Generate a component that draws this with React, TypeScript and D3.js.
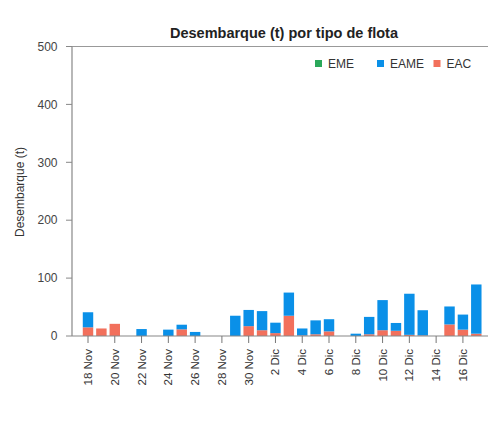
import React from "react";
import * as d3 from "d3";

const dates = [
  "18 Nov", "19 Nov", "20 Nov", "21 Nov", "22 Nov", "23 Nov", "24 Nov", "25 Nov", "26 Nov", "27 Nov",
  "28 Nov", "29 Nov", "30 Nov", "1 Dic", "2 Dic", "3 Dic", "4 Dic", "5 Dic", "6 Dic", "7 Dic",
  "8 Dic", "9 Dic", "10 Dic", "11 Dic", "12 Dic", "13 Dic", "14 Dic", "15 Dic", "16 Dic", "17 Dic",
];
const eme = [0, 0, 0, 0, 0, 0, 0, 0, 0, 0, 0, 0, 0, 0, 0, 0, 0, 0, 0, 0, 0, 0, 0, 0, 0, 0, 0, 0, 0, 0];
const eame = [26, 0, 0, 0, 12, 0, 11, 8, 7, 0, 0, 35, 28, 33, 18, 40, 12, 24, 21, 0, 4, 30, 52, 13.5, 71, 43.5, 0, 31, 26, 85];
const eac = [15, 13, 21, 0, 0, 0, 0, 11.5, 0, 0, 0, 0, 17, 10, 5, 35, 1, 3, 8, 0, 0, 3, 10, 9, 2, 1, 0, 20, 11, 4];
const tickLabels = ["18 Nov", "20 Nov", "22 Nov", "24 Nov", "26 Nov", "28 Nov", "30 Nov", "2 Dic", "4 Dic", "6 Dic", "8 Dic", "10 Dic", "12 Dic", "14 Dic", "16 Dic"];
const yTicks = [0, 100, 200, 300, 400, 500];
const seriesKeys = ["EAC", "EAME", "EME"];
const legendKeys = ["EME", "EAME", "EAC"];
const colors: Record<string, string> = { EME: "#2aa85a", EAME: "#0a90e8", EAC: "#f2705c" };

const W = 488, H = 423;
const x0 = 72, yTop = 46.5, yBottom = 336;
const font = "Liberation Sans, Arial, sans-serif";

export default function App() {
  const rows = dates.map((d, i) => ({ date: d, EME: eme[i], EAME: eame[i], EAC: eac[i] }));
  const x = d3.scaleBand<string>().domain(dates).range([x0, 492.3]).paddingInner(0.22).paddingOuter(0.805);
  const y = d3.scaleLinear().domain([0, 500]).range([yBottom, yTop]);
  const stacked = d3.stack<any>().keys(seriesKeys)(rows);
  const bw = x.bandwidth();
  const legendX: Record<string, number> = { EME: 315, EAME: 377, EAC: 433.5 };

  return (
    <svg width={W} height={H} style={{ display: "block", position: "absolute", left: 0, top: 0 }} fontFamily={font}>
      <rect width={W} height={H} fill="#fff" />
      <text x={284} y={38} textAnchor="middle" fontWeight="bold" fontSize={14.5} fill="#222">
        Desembarque (t) por tipo de flota
      </text>
      {/* bars */}
      {stacked.map((s) => (
        <g key={s.key} fill={colors[s.key]}>
          {s.map((d, i) =>
            d[1] - d[0] > 0 ? (
              <rect key={i} x={x(dates[i])!} width={bw} y={y(d[1])} height={y(d[0]) - y(d[1])} />
            ) : null
          )}
        </g>
      ))}
      {/* frame */}
      <line x1={x0} x2={W} y1={yTop} y2={yTop} stroke="#999" strokeWidth={1} />
      <line x1={x0} x2={x0} y1={yTop} y2={yBottom} stroke="#888" strokeWidth={1.2} />
      <line x1={x0} x2={W} y1={yBottom} y2={yBottom} stroke="#888" strokeWidth={1.2} />
      {/* y axis */}
      {yTicks.map((t) => (
        <g key={t}>
          <line x1={x0 - 6} x2={x0} y1={y(t)} y2={y(t)} stroke="#888" />
          <text x={57.5} y={y(t)} dy="0.35em" textAnchor="end" fontSize={12} fill="#444">
            {t}
          </text>
        </g>
      ))}
      <text transform={`translate(20,192) rotate(-90)`} textAnchor="middle" dy="0.35em" fontSize={12} fill="#333">
        Desembarque (t)
      </text>
      {/* x axis */}
      {tickLabels.map((t) => {
        const cx = x(t)! + bw / 2;
        return (
          <g key={t}>
            <line x1={cx} x2={cx} y1={yBottom} y2={yBottom + 7} stroke="#777" />
            <text transform={`translate(${cx},${yBottom + 13}) rotate(-90)`} textAnchor="end" dy="0.35em" fontSize={11.5} fill="#333">
              {t}
            </text>
          </g>
        );
      })}
      {/* legend */}
      {legendKeys.map((k) => (
        <g key={k}>
          <rect x={legendX[k]} y={60} width={7} height={7} fill={colors[k]} />
          <text x={legendX[k] + 13} y={63.5} dy="0.35em" fontSize={12} fill="#333">
            {k}
          </text>
        </g>
      ))}
    </svg>
  );
}
